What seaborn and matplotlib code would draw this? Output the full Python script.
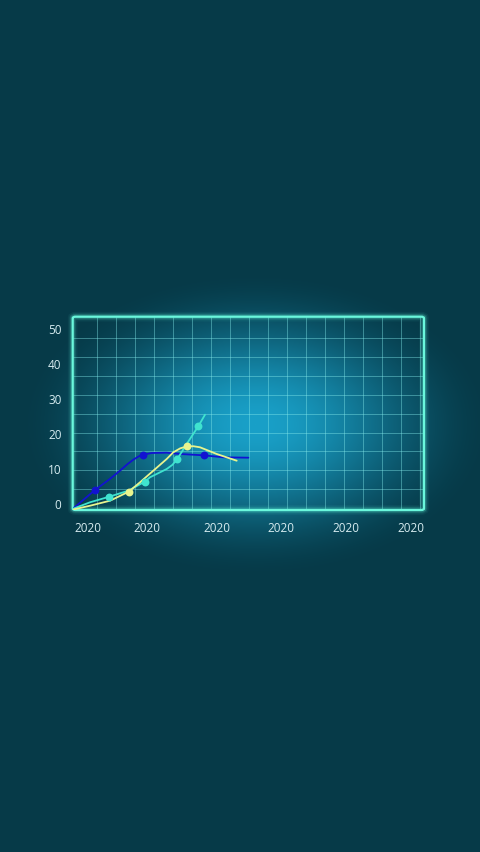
import numpy as np
import pandas as pd
import matplotlib
matplotlib.use('Agg')
import matplotlib.pyplot as plt
from matplotlib.patches import FancyBboxPatch
import seaborn as sns

# values (x in chart units 0..100, y in axis values)
blue_x = [0, 6.35, 10.5, 13.46, 15.6, 17.25, 18.8, 19.93, 22.49, 26.76, 30.54, 37.38, 42.87, 50.0]
blue_y = [-1.6, 3.8, 6.9, 9.31, 11.2, 12.46, 13.4, 13.86, 14.37, 14.46, 14.09, 13.7, 13.14, 13.03]
blue_mx = [6.35, 19.93, 37.38]
blue_my = [3.8, 13.86, 13.7]

cyan_x = [0, 4.92, 10.42, 15.83, 20.5, 22.0, 26.76, 28.4, 29.77, 32.45, 35.75, 37.66]
cyan_y = [-1.6, 0.29, 1.89, 3.6, 6.17, 7.43, 9.8, 11.0, 12.66, 16.94, 22.0, 25.31]
cyan_mx = [10.42, 20.5, 29.77, 35.75]
cyan_my = [1.89, 6.17, 12.66, 22.0]

yell_x = [0, 4.92, 10.62, 15.94, 19.16, 22.94, 26.76, 28.64, 30.6, 32.54, 34.4, 36.24, 40.99, 46.68]
yell_y = [-1.8, -0.69, 0.74, 3.31, 6.0, 9.31, 12.66, 14.57, 15.7, 16.29, 16.3, 16.0, 14.09, 12.17]
yell_mx = [15.94, 32.54]
yell_my = [3.31, 16.29]

y_ticks = [0, 10, 20, 30, 40, 50]
x_ticks = [4.3, 21.1, 41.0, 59.3, 77.7, 96.2]
x_labels = ['2020'] * 6

sns.set_style('dark')
plt.rcParams['font.family'] = ['Open Sans', 'DejaVu Sans']

W, H = 480, 853
fig = plt.figure(figsize=(4.8, 8.53), dpi=100)

# radial glow background
yy, xx = np.mgrid[0:H, 0:W]
t = np.sqrt(((xx - 255) / 240.0) ** 2 + ((yy - 425) / 155.0) ** 2)
t = np.clip(t, 0, 1)
t = t * t * (3 - 2 * t)
center = np.array([0x19, 0xa0, 0xc8]) / 255.0
edge = np.array([0x06, 0x3a, 0x48]) / 255.0
img = center[None, None, :] * (1 - t[..., None]) + edge[None, None, :] * t[..., None]
ax_bg = fig.add_axes([0, 0, 1, 1])
ax_bg.imshow(img, aspect='auto', extent=[0, 1, 0, 1], origin='upper')
ax_bg.axis('off')

# main axes placed where the reference box is
L, R, T, B = 72.7, 424.0, 317.7, 511.0
ax = fig.add_axes([L / W, 1 - B / H, (R - L) / W, (B - T) / H])
ax.set_facecolor('none')
ax.set_xlim(0, 100)
ax.set_ylim(-1.91, 53.3)
for s in ax.spines.values():
    s.set_visible(False)
ax.grid(False)

# decorative grid
grid_c = '#86ecec'
for k in range(18):
    fx = (97.3 + 19.0 * k - L) / (R - L)
    ax.plot([fx, fx], [0, 1], transform=ax.transAxes, color=grid_c, lw=0.7, alpha=0.42, zorder=1)
for k in range(9):
    fy = (B - (339.3 + 18.84 * k)) / (B - T)
    ax.plot([0, 1], [fy, fy], transform=ax.transAxes, color=grid_c, lw=0.7, alpha=0.42, zorder=1)

# glowing rounded frame
for lw, a in [(7, 0.06), (5, 0.1), (3.5, 0.2)]:
    ax.add_patch(FancyBboxPatch((0, 0), 1, 1, boxstyle='round,pad=0,rounding_size=0.008',
                                transform=ax.transAxes, fill=False, ec='#5ff5d8', lw=lw,
                                alpha=a, clip_on=False, zorder=2))
ax.add_patch(FancyBboxPatch((0, 0), 1, 1, boxstyle='round,pad=0,rounding_size=0.008',
                            transform=ax.transAxes, fill=False, ec='#6af7dc', lw=1.6,
                            clip_on=False, zorder=3))

series = [
    (blue_x, blue_y, blue_mx, blue_my, '#1212d2'),
    (cyan_x, cyan_y, cyan_mx, cyan_my, '#3fe3cf'),
    (yell_x, yell_y, yell_mx, yell_my, '#e8f48e'),
]
for lx, ly, mx, my, c in series:
    df = pd.DataFrame({'x': lx, 'y': ly})
    sns.lineplot(data=df, x='x', y='y', ax=ax, color=c, lw=1.3, sort=False,
                 estimator=None, zorder=4)
    dm = pd.DataFrame({'x': mx, 'y': my})
    sns.scatterplot(data=dm, x='x', y='y', ax=ax, color=c, s=32, linewidth=0, zorder=5)

ax.set_xlabel('')
ax.set_ylabel('')
ax.set_yticks(y_ticks)
ax.set_xticks(x_ticks)
ax.set_xticklabels(x_labels)
ax.tick_params(axis='both', length=0, colors='#d6ecf0', labelsize=8.5)
ax.tick_params(axis='y', pad=8)
ax.tick_params(axis='x', pad=8)

fig.savefig('out.png', dpi=100)
